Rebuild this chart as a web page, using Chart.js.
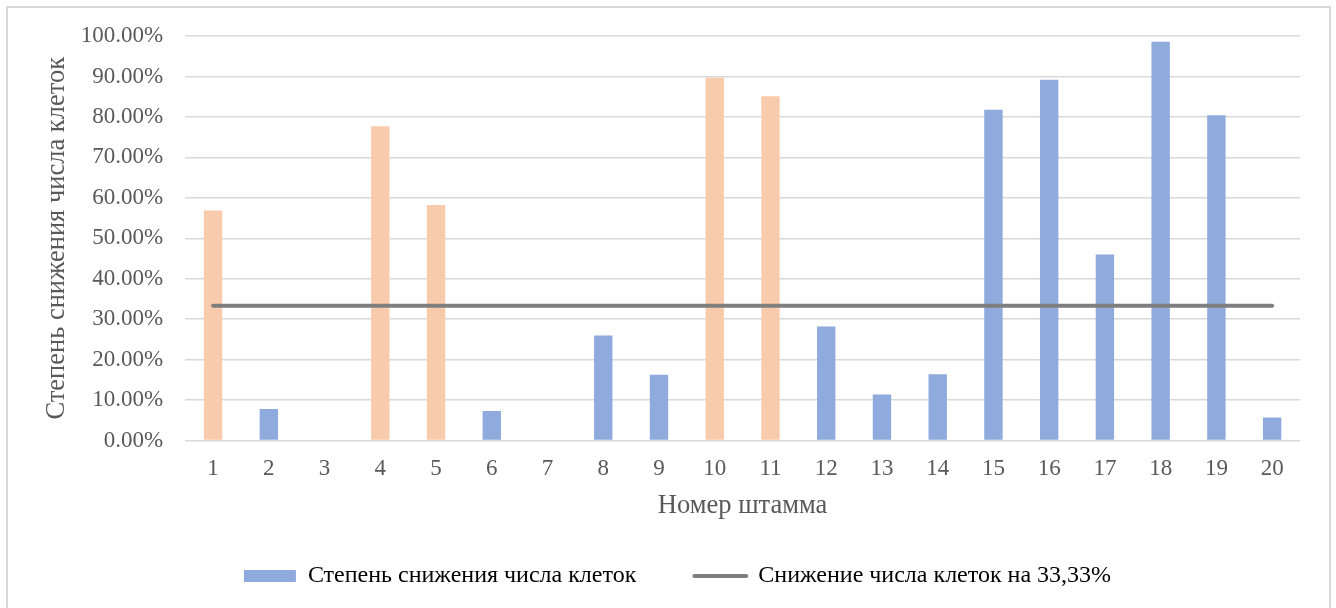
<!DOCTYPE html>
<html lang="ru">
<head>
    <meta charset="UTF-8">
    <title>Степень снижения числа клеток</title>
    <script src="https://cdn.jsdelivr.net/npm/chart.js"></script>
    <style>
        body { margin: 0; background: #fff; }
        #strainChart { display: block; }
    </style>
</head>
<body>
    <canvas id="strainChart" width="1336" height="608"></canvas>
    <script>
    // номера штаммов
    const strains = ['1', '2', '3', '4', '5', '6', '7', '8', '9', '10',
                     '11', '12', '13', '14', '15', '16', '17', '18', '19', '20'];
    // степень снижения числа клеток (доля)
    const reduction = [0.569, 0.078, 0, 0.777, 0.582, 0.073, 0, 0.260, 0.163, 0.897,
                       0.851, 0.282, 0.114, 0.164, 0.818, 0.892, 0.460, 0.986, 0.804, 0.057];
    // порог 33,33%
    const threshold = [0.3333, 0.3333, 0.3333, 0.3333, 0.3333, 0.3333, 0.3333, 0.3333, 0.3333, 0.3333,
                       0.3333, 0.3333, 0.3333, 0.3333, 0.3333, 0.3333, 0.3333, 0.3333, 0.3333, 0.3333];
    // цвет столбцов: выделенные штаммы оранжевые
    const barColors = ['#F8CBAD', '#8FAADC', '#8FAADC', '#F8CBAD', '#F8CBAD', '#8FAADC', '#8FAADC', '#8FAADC', '#8FAADC', '#F8CBAD',
                       '#F8CBAD', '#8FAADC', '#8FAADC', '#8FAADC', '#8FAADC', '#8FAADC', '#8FAADC', '#8FAADC', '#8FAADC', '#8FAADC'];

    const seriesNames = ['Степень снижения числа клеток', 'Снижение числа клеток на 33,33%'];

    const FONT = '"Liberation Serif", "Times New Roman", serif';
    const TEXT = '#595959';
    const GRID = '#D9D9D9';

    // рамка вокруг диаграммы + сдвиг легенды
    const framePlugin = {
        id: 'frame',
        afterLayout: (chart) => {
            const lg = chart.legend;
            lg.left += 12;
            lg.right += 12;
            lg.top -= 16;
            lg.bottom -= 16;
        },
        beforeDraw: (chart) => {
            const ctx = chart.ctx;
            ctx.save();
            ctx.strokeStyle = GRID;
            ctx.lineWidth = 2;
            ctx.strokeRect(7, 7, 1323, 640);
            ctx.restore();
        }
    };

    const ctx = document.getElementById('strainChart').getContext('2d');
    const chart = new Chart(ctx, {
        data: {
            labels: strains,
            datasets: [
                {
                    type: 'line',
                    label: seriesNames[1],
                    data: threshold,
                    borderColor: '#7F7F7F',
                    backgroundColor: '#7F7F7F',
                    borderWidth: 4,
                    borderCapStyle: 'round',
                    pointRadius: 0,
                    order: 0
                },
                {
                    type: 'bar',
                    label: seriesNames[0],
                    data: reduction,
                    backgroundColor: barColors,
                    barPercentage: 0.33,
                    categoryPercentage: 1,
                    order: 1
                }
            ]
        },
        options: {
            responsive: false,
            animation: false,
            layout: {
                padding: { left: 31, right: 36, top: 36, bottom: -6 }
            },
            scales: {
                x: {
                    grid: { display: false },
                    border: { display: false },
                    ticks: {
                        color: TEXT,
                        padding: 7,
                        font: { family: FONT, size: 23 }
                    },
                    title: {
                        display: true,
                        text: 'Номер штамма',
                        color: TEXT,
                        padding: { top: 0, bottom: 0 },
                        font: { family: FONT, size: 26.5 }
                    }
                },
                y: {
                    min: 0,
                    max: 1,
                    grid: { color: GRID, lineWidth: 1.5, drawTicks: false },
                    border: { display: false },
                    ticks: {
                        stepSize: 0.1,
                        color: TEXT,
                        padding: 22,
                        font: { family: FONT, size: 23 },
                        callback: (v) => (v * 100).toFixed(2) + '%'
                    },
                    title: {
                        display: true,
                        text: 'Степень снижения числа клеток',
                        color: TEXT,
                        padding: { top: 10, bottom: -14 },
                        font: { family: FONT, size: 26.5 }
                    }
                }
            },
            plugins: {
                tooltip: { enabled: false },
                legend: {
                    position: 'bottom',
                    onClick: (e) => e.stopPropagation(),
                    labels: {
                        color: TEXT,
                        font: { family: FONT, size: 24 },
                        usePointStyle: true,
                        pointStyleWidth: 52,
                        boxHeight: 12,
                        padding: 58,
                        generateLabels: () => [
                            { text: seriesNames[0], fillStyle: '#8FAADC', strokeStyle: '#8FAADC',
                              lineWidth: 0, pointStyle: 'rect', hidden: false, datasetIndex: 1 },
                            { text: seriesNames[1], fillStyle: '#7F7F7F', strokeStyle: '#7F7F7F',
                              lineWidth: 4, lineCap: 'round', pointStyle: 'line', hidden: false, datasetIndex: 0 }
                        ]
                    }
                }
            }
        },
        plugins: [framePlugin]
    });
    </script>
</body>
</html>
